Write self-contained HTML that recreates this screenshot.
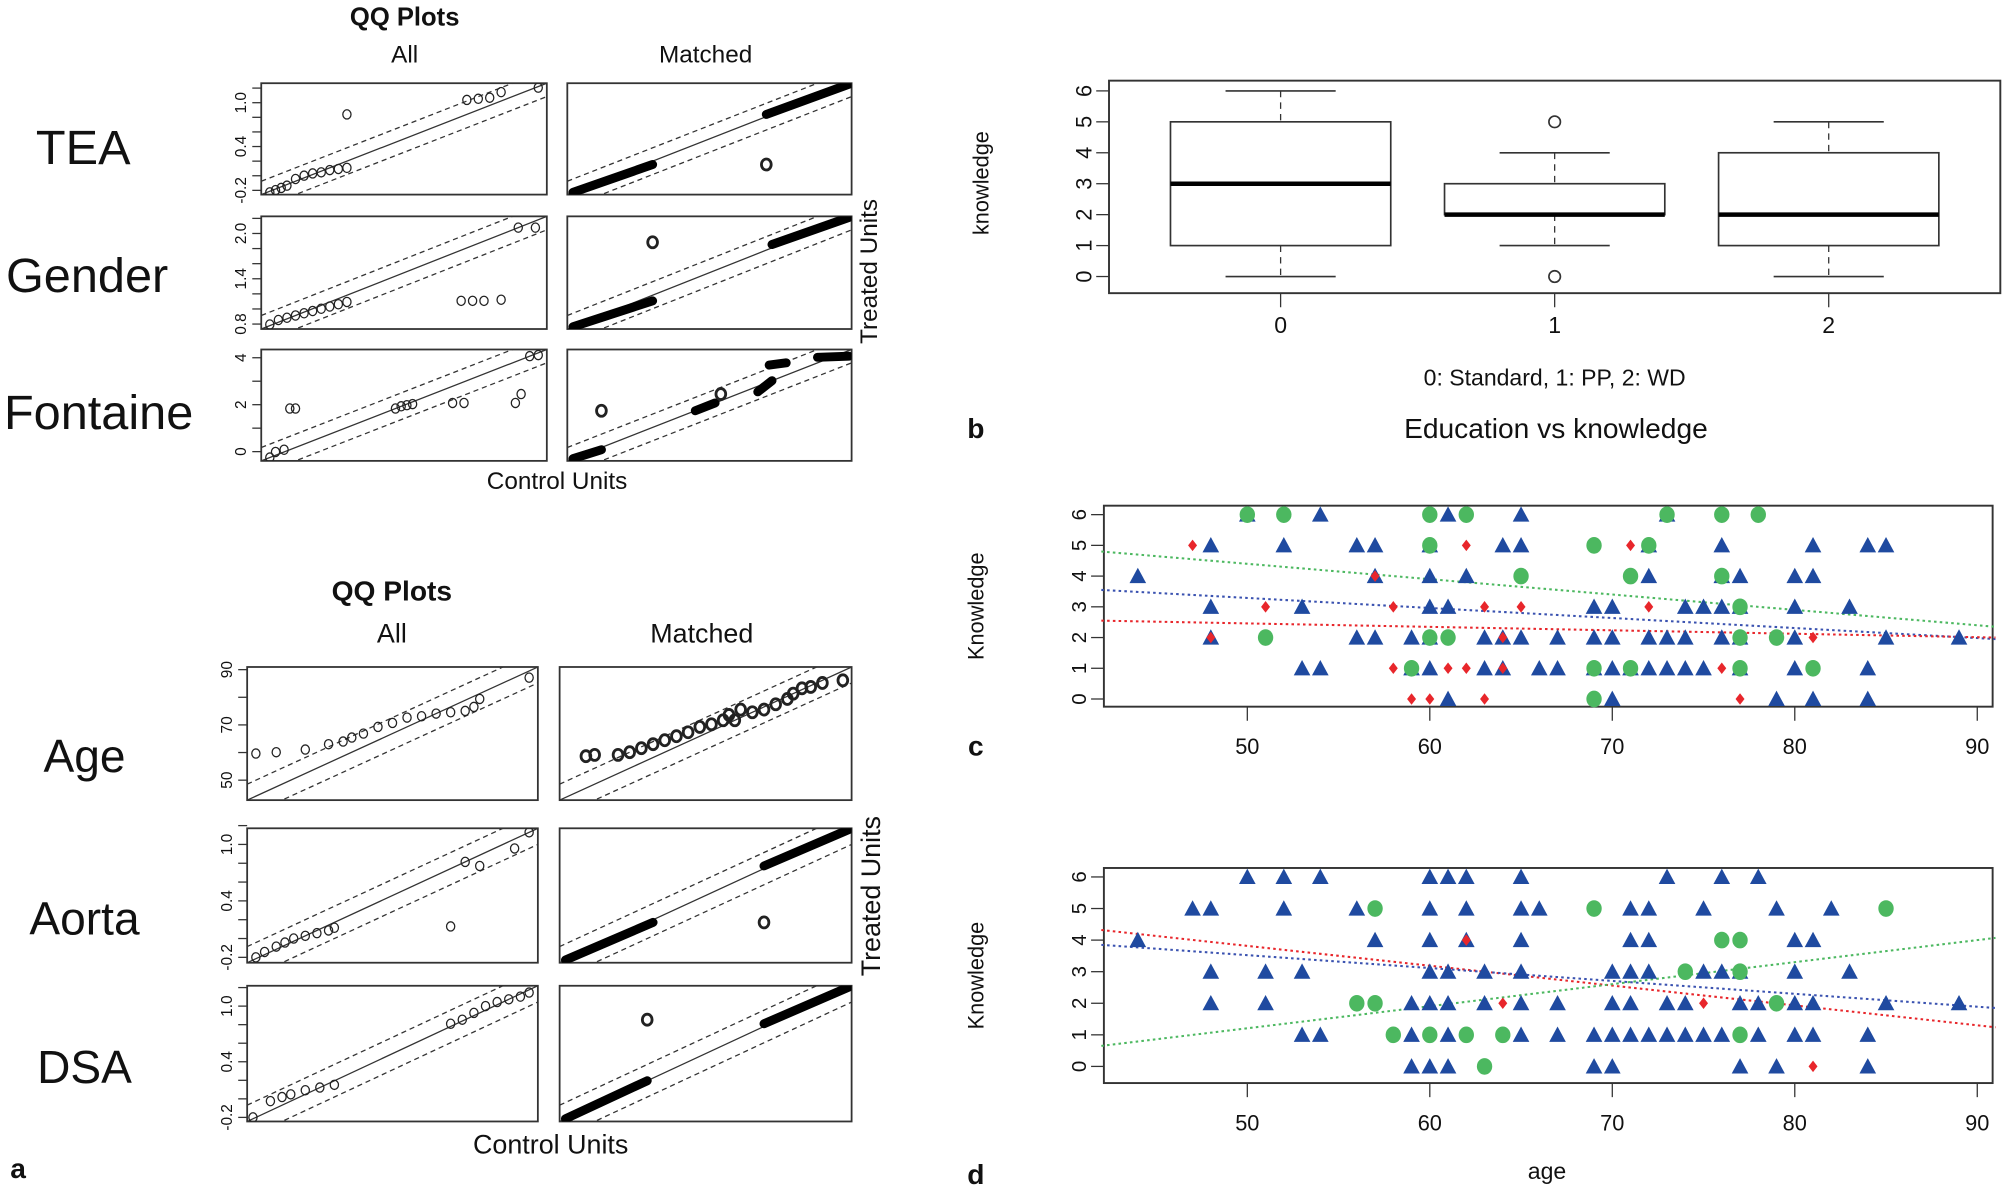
<!DOCTYPE html>
<html><head><meta charset="utf-8"><style>
html,body{margin:0;padding:0;background:#fff;}
svg{display:block;font-family:"Liberation Sans",sans-serif;}
</style></head><body>
<svg id="fig" width="2008" height="1197" viewBox="0 0 1568 935" preserveAspectRatio="none" xmlns="http://www.w3.org/2000/svg"></svg>
<script>
// ---------- Data: panel b (boxplot) ----------
const boxGroups = ["0","1","2"];
const boxQ1 = [1,2,1];
const boxMed = [3,2,2];
const boxQ3 = [5,3,4];
const boxLo = [0,1,0];
const boxHi = [6,4,5];
const boxOutliers = [[],[5,0],[]];
const knowTicks = [0,1,2,3,4,5,6];
const ageTicks = [50,60,70,80,90];

// ---------- Data: panel c ----------
const cBlueAge = [50,54,61,65,73, 48,52,56,57,60,64,65,72,76,81,84,85, 44,57,60,62,72,76,77,80,81, 48,53,60,61,69,70,74,75,76,77,80,83, 48,56,57,59,60,63,64,65,67,69,70,72,73,74,76,77,80,85,89, 53,54,59,60,63,64,66,67,69,70,71,72,73,74,75,77,80,84, 61,70,79,81,84];
const cBlueK   = [6,6,6,6,6, 5,5,5,5,5,5,5,5,5,5,5,5, 4,4,4,4,4,4,4,4,4, 3,3,3,3,3,3,3,3,3,3,3,3, 2,2,2,2,2,2,2,2,2,2,2,2,2,2,2,2,2,2,2, 1,1,1,1,1,1,1,1,1,1,1,1,1,1,1,1,1,1, 0,0,0,0,0];
const cGreenAge = [50,52,60,62,73,76,78, 60,69,72, 65,71,76, 77, 51,60,61,77,79, 59,69,71,77,81, 69];
const cGreenK   = [6,6,6,6,6,6,6, 5,5,5, 4,4,4, 3, 2,2,2,2,2, 1,1,1,1,1, 0];
const cRedAge = [47,62,71, 57, 51,58,63,65,72, 48,64,81, 58,61,62,64,76, 59,60,63,77];
const cRedK   = [5,5,5, 4, 3,3,3,3,3, 2,2,2, 1,1,1,1,1, 0,0,0,0];
const cTrendAge = [42,91];
const cTrendGreen = [4.8,2.35];
const cTrendBlue = [3.55,1.95];
const cTrendRed = [2.55,2.0];

// ---------- Data: panel d ----------
const dBlueAge = [50,52,54,60,61,62,65,73,76,78, 47,48,52,56,60,62,65,66,71,72,75,79,82, 44,57,60,62,65,71,72,80,81, 48,51,53,60,61,63,65,70,71,72,75,76,77,80,83, 48,51,59,60,61,63,65,67,70,71,73,74,77,78,80,81,85,89, 53,54,59,61,65,67,69,70,71,72,73,74,75,76,78,80,81,84, 59,60,61,69,70,77,79,84];
const dBlueK   = [6,6,6,6,6,6,6,6,6,6, 5,5,5,5,5,5,5,5,5,5,5,5,5, 4,4,4,4,4,4,4,4,4, 3,3,3,3,3,3,3,3,3,3,3,3,3,3,3, 2,2,2,2,2,2,2,2,2,2,2,2,2,2,2,2,2,2, 1,1,1,1,1,1,1,1,1,1,1,1,1,1,1,1,1,1, 0,0,0,0,0,0,0,0];
const dGreenAge = [57,69,85, 76,77, 74,77, 56,57,79, 58,60,62,64,77, 63];
const dGreenK   = [5,5,5, 4,4, 3,3, 2,2,2, 1,1,1,1,1, 0];
const dRedAge = [62, 64,75, 81];
const dRedK   = [4, 2,2, 0];
const dTrendAge = [42,91];
const dTrendRed = [4.32,1.24];
const dTrendBlue = [3.85,1.85];
const dTrendGreen = [0.65,4.07];

// ---------- Data: QQ panels (normalized quantiles 0..1) ----------
const qqTeaAll = [[0.03,0.02],[0.05,0.04],[0.07,0.06],[0.09,0.08],[0.12,0.14],[0.15,0.17],[0.18,0.19],[0.21,0.2],[0.24,0.22],[0.27,0.23],[0.3,0.24],[0.3,0.72],[0.72,0.85],[0.76,0.86],[0.8,0.87],[0.84,0.92],[0.97,0.96]];
const qqTeaMatchSeg = [[0.02,0.02,0.3,0.27],[0.7,0.72,0.99,0.99]];
const qqTeaMatchPts = [[0.7,0.27]];
const qqGenAll = [[0.03,0.04],[0.06,0.08],[0.09,0.1],[0.12,0.12],[0.15,0.14],[0.18,0.16],[0.21,0.18],[0.24,0.2],[0.27,0.22],[0.3,0.24],[0.7,0.25],[0.74,0.25],[0.78,0.25],[0.84,0.26],[0.9,0.9],[0.96,0.9]];
const qqGenMatchSeg = [[0.02,0.02,0.3,0.25],[0.72,0.75,0.99,0.99]];
const qqGenMatchPts = [[0.3,0.77]];
const qqFonAll = [[0.03,0.03],[0.05,0.08],[0.08,0.1],[0.1,0.47],[0.12,0.47],[0.47,0.47],[0.49,0.49],[0.51,0.5],[0.53,0.51],[0.67,0.52],[0.71,0.52],[0.89,0.52],[0.91,0.6],[0.94,0.94],[0.97,0.95]];
const qqFonMatchSeg = [[0.02,0.02,0.12,0.1],[0.45,0.45,0.52,0.52],[0.67,0.62,0.72,0.72],[0.71,0.86,0.77,0.88],[0.88,0.93,0.99,0.94]];
const qqFonMatchPts = [[0.12,0.45],[0.54,0.6]];
const qqAgeAll = [[0.03,0.35],[0.1,0.36],[0.2,0.38],[0.28,0.42],[0.33,0.44],[0.36,0.47],[0.4,0.5],[0.45,0.55],[0.5,0.58],[0.55,0.62],[0.6,0.63],[0.65,0.65],[0.7,0.66],[0.75,0.67],[0.78,0.7],[0.8,0.76],[0.97,0.92]];
const qqAgeMatch = [[0.09,0.33],[0.12,0.34],[0.2,0.34],[0.24,0.36],[0.28,0.39],[0.32,0.42],[0.36,0.45],[0.4,0.48],[0.44,0.51],[0.48,0.55],[0.52,0.57],[0.56,0.6],[0.58,0.64],[0.6,0.6],[0.62,0.68],[0.66,0.66],[0.7,0.68],[0.74,0.72],[0.78,0.76],[0.8,0.8],[0.83,0.84],[0.86,0.85],[0.9,0.88],[0.97,0.9]];
const qqAorAll = [[0.03,0.04],[0.06,0.08],[0.1,0.12],[0.13,0.15],[0.16,0.18],[0.2,0.2],[0.24,0.22],[0.28,0.24],[0.3,0.26],[0.7,0.27],[0.75,0.75],[0.8,0.72],[0.92,0.85],[0.97,0.97]];
const qqAorMatchSeg = [[0.02,0.02,0.32,0.3],[0.7,0.72,0.99,0.99]];
const qqAorMatchPts = [[0.7,0.3]];
const qqDsaAll = [[0.02,0.03],[0.08,0.15],[0.12,0.18],[0.15,0.2],[0.2,0.23],[0.25,0.25],[0.3,0.27],[0.7,0.72],[0.74,0.75],[0.78,0.8],[0.82,0.85],[0.86,0.88],[0.9,0.9],[0.94,0.92],[0.97,0.95]];
const qqDsaMatchSeg = [[0.02,0.02,0.3,0.3],[0.7,0.72,0.99,0.99]];
const qqDsaMatchPts = [[0.3,0.75]];

const NS="http://www.w3.org/2000/svg";
const svg=document.getElementById('fig');
function mk(tag,attrs,parent){const e=document.createElementNS(NS,tag);for(const k in attrs)e.setAttribute(k,attrs[k]);(parent||svg).appendChild(e);return e;}
function txt(s,x,y,size,opts,parent){opts=opts||{};const e=mk('text',{x:x,y:y,'font-size':size,'text-anchor':opts.anchor||'middle',fill:'#111','font-weight':opts.weight||'normal'},parent);if(opts.rot!==undefined)e.setAttribute('transform','rotate('+opts.rot+' '+x+' '+y+')');if(opts.family)e.setAttribute('font-family',opts.family);e.textContent=s;return e;}
function grp(name){const g=mk('g',{});return g;}

// ---------- Panel b ----------
(function(){
 const g=grp('panel-b-boxplot');
 const X0=866,X1=1562,Y0=63,Y1=229;
 const yS=v=>216-v*(145/6);
 const xS=i=>1000+i*214;
 mk('rect',{x:X0,y:Y0,width:X1-X0,height:Y1-Y0,fill:'none',stroke:'#333','stroke-width':1.5},g);
 knowTicks.forEach(t=>{mk('line',{x1:X0-10,x2:X0,y1:yS(t),y2:yS(t),stroke:'#333'},g);const l=txt(String(t),X0-18,yS(t),17,{rot:-90},g);l.setAttribute('dominant-baseline','middle');});
 boxGroups.forEach((n,i)=>{
  const bg=mk('g',{},g);
  const cx=xS(i),hw=86;
  mk('line',{x1:cx,x2:cx,y1:Y1,y2:Y1+11,stroke:'#333'},g);
  txt(n,cx,260,18,{},g);
  mk('line',{x1:cx,x2:cx,y1:yS(boxHi[i]),y2:yS(boxQ3[i]),stroke:'#333','stroke-dasharray':'5,4'},bg);
  mk('line',{x1:cx,x2:cx,y1:yS(boxQ1[i]),y2:yS(boxLo[i]),stroke:'#333','stroke-dasharray':'5,4'},bg);
  mk('line',{x1:cx-43,x2:cx+43,y1:yS(boxHi[i]),y2:yS(boxHi[i]),stroke:'#333','stroke-width':1.3},bg);
  mk('line',{x1:cx-43,x2:cx+43,y1:yS(boxLo[i]),y2:yS(boxLo[i]),stroke:'#333','stroke-width':1.3},bg);
  mk('rect',{x:cx-hw,y:yS(boxQ3[i]),width:2*hw,height:yS(boxQ1[i])-yS(boxQ3[i]),fill:'#fff',stroke:'#333','stroke-width':1.3},bg);
  mk('line',{x1:cx-hw,x2:cx+hw,y1:yS(boxMed[i]),y2:yS(boxMed[i]),stroke:'#000','stroke-width':3.5},bg);
  boxOutliers[i].forEach(o=>mk('circle',{cx:cx,cy:yS(o),r:4.5,fill:'none',stroke:'#333','stroke-width':1.3},bg));
 });
 txt('knowledge',772,143,17,{rot:-90},g);
 txt('0: Standard, 1: PP, 2: WD',1214,301,18,{},g);
 txt('Education vs knowledge',1215,342,22,{},g);
 txt('b',762,342,22,{weight:'bold'},g);
})();

// ---------- scatter panels ----------
function scatter(name,Y0,Y1,y6,y0,blue,green,red,trend,label,labY,showAge){
 const g=grp(name);
 const X0=862,X1=1556;
 const xS=a=>974+(a-50)*14.25;
 const yS=v=>y0-v*((y0-y6)/6);
 mk('rect',{x:X0,y:Y0,width:X1-X0,height:Y1-Y0,fill:'none',stroke:'#333','stroke-width':1.5},g);
 knowTicks.forEach(t=>{mk('line',{x1:X0-10,x2:X0,y1:yS(t),y2:yS(t),stroke:'#333'},g);const l=txt(String(t),X0-18,yS(t),16,{rot:-90},g);l.setAttribute('dominant-baseline','middle');});
 ageTicks.forEach(t=>{mk('line',{x1:xS(t),x2:xS(t),y1:Y1,y2:Y1+11,stroke:'#333'},g);txt(String(t),xS(t),Y1+37,17,{},g);});
 txt('Knowledge',768,(Y0+Y1)/2,17,{rot:-90},g);
 txt(label,762,labY,22,{weight:'bold'},g);
 if(showAge) txt('age',1208,921,18,{},g);
 const colors={green:'#4cb860',blue:'#3a52b0',red:'#e8262b'};
 trend.forEach(tr=>{const l=mk('line',{x1:xS(tr.a[0]),y1:yS(tr.v[0]),x2:xS(tr.a[1]),y2:yS(tr.v[1]),stroke:colors[tr.c],'stroke-width':1.6,'stroke-dasharray':'2,2.5'},g);});
 blue[0].forEach((a,i)=>{const x=xS(a),y=yS(blue[1][i]);const p=mk('polygon',{points:`${x-6.5},${y+5.5} ${x+6.5},${y+5.5} ${x},${y-6.5}`,fill:'#1f4aa0'},g);});
 green[0].forEach((a,i)=>{const p=mk('ellipse',{cx:xS(a),cy:yS(green[1][i]),rx:6,ry:6.5,fill:'#4cb860'},g);});
 red[0].forEach((a,i)=>{const x=xS(a),y=yS(red[1][i]);const p=mk('polygon',{points:`${x},${y-4.5} ${x+3.5},${y} ${x},${y+4.5} ${x-3.5},${y}`,fill:'#e8262b'},g);});
}
scatter('panel-c-scatter',395,552,402,546,[cBlueAge,cBlueK],[cGreenAge,cGreenK],[cRedAge,cRedK],
 [{c:'green',a:cTrendAge,v:cTrendGreen},{c:'blue',a:cTrendAge,v:cTrendBlue},{c:'red',a:cTrendAge,v:cTrendRed}],'c',590,false);
scatter('panel-d-scatter',678,846,685,833,[dBlueAge,dBlueK],[dGreenAge,dGreenK],[dRedAge,dRedK],
 [{c:'red',a:dTrendAge,v:dTrendRed},{c:'blue',a:dTrendAge,v:dTrendBlue},{c:'green',a:dTrendAge,v:dTrendGreen}],'d',925,true);

// ---------- QQ panels ----------
function qq(name,X0,X1,Y0,Y1,pts,segs,bold,ticks,tickFracs){
 const g=grp(name);
 const W=X1-X0,H=Y1-Y0;
 const xS=u=>X0+u*W, yS=v=>Y1-v*H;
 mk('rect',{x:X0,y:Y0,width:W,height:H,fill:'none',stroke:'#333','stroke-width':1.4},g);
 const cp='cp'+name;const c=mk('clipPath',{id:cp},g);mk('rect',{x:X0,y:Y0,width:W,height:H},c);
 const lg=mk('g',{'clip-path':'url(#'+cp+')'},g);
 mk('line',{x1:xS(0),y1:yS(0),x2:xS(1),y2:yS(1),stroke:'#333','stroke-width':1},lg);
 mk('line',{x1:xS(0),y1:yS(0.12),x2:xS(1),y2:yS(1.12),stroke:'#333','stroke-width':1,'stroke-dasharray':'4,3'},lg);
 mk('line',{x1:xS(0.1),y1:yS(-0.02),x2:xS(1.1),y2:yS(0.98),stroke:'#333','stroke-width':1,'stroke-dasharray':'4,3'},lg);
 (segs||[]).forEach(s=>mk('line',{x1:xS(s[0]),y1:yS(s[1]),x2:xS(s[2]),y2:yS(s[3]),stroke:'#000','stroke-width':7,'stroke-linecap':'round'},lg));
 pts.forEach(p=>mk('ellipse',{cx:xS(p[0]),cy:yS(p[1]),rx:bold?3.8:3.2,ry:bold?4.3:3.6,fill:'none',stroke:'#222','stroke-width':bold?2.2:1},lg));
 if(ticks){
  // ticks: [min,max,step], labels every 3rd
  const [mn,mx,st,lab]=ticks;
  const yv=v=>Y0+H*(tickFracs[0]+(v-mn)/(mx-mn)*(tickFracs[1]-tickFracs[0]));
  let k=0;
  for(let v=mn;v<=ticks[4]+1e-9;v+=st,k++){
   const y=yv(v);mk('line',{x1:X0-7,x2:X0,y1:y,y2:y,stroke:'#333'},g);
   if(k%lab===0){const l=txt((Math.round(v*10)/10).toFixed(st<1?1:0),X0-15,y,12,{rot:-90},g);l.setAttribute('dominant-baseline','middle');}
  }
 }
}
// top group
txt('QQ Plots',316,20,20,{weight:'bold'});
txt('All',316,49,19);
txt('Matched',551,49,19);
txt('Control Units',435,382,19);
txt('Treated Units',685,212,19,{rot:-90});
txt('TEA',65,128,38);
txt('Gender',68,228,38);
txt('Fontaine',77,335,38);
// tick spec: [valueAtFracA, valueAtFracB, step, labelEvery, maxTick]
qq('qq-tea-all',204,427,65,152,qqTeaAll,null,false,[-0.2,1.0,0.2,3,1.2],[0.962,0.175]);
qq('qq-tea-matched',443,665,65,152,qqTeaMatchPts,qqTeaMatchSeg,true);
qq('qq-gender-all',204,427,169,257,qqGenAll,null,false,[0.8,2.0,0.2,3,2.2],[0.956,0.152]);
qq('qq-gender-matched',443,665,169,257,qqGenMatchPts,qqGenMatchSeg,true);
qq('qq-fontaine-all',204,427,273,360,qqFonAll,null,false,[0,4,1,2,4],[0.917,0.074]);
qq('qq-fontaine-matched',443,665,273,360,qqFonMatchPts,qqFonMatchSeg,true);
// bottom group
txt('QQ Plots',306,469,22,{weight:'bold'});
txt('All',306,502,21);
txt('Matched',548,502,21);
txt('Control Units',430,901,21);
txt('Treated Units',687,700,21,{rot:-90});
txt('Age',66,603,36);
txt('Aorta',66,730,36);
txt('DSA',66,846,36);
txt('a',8,920,22,{weight:'bold',anchor:'start'});
qq('qq-age-all',193,420,521,625,qqAgeAll,null,false,[50,90,10,2,90],[0.85,0.02]);
qq('qq-age-matched',437,665,521,625,qqAgeMatch,null,true);
qq('qq-aorta-all',193,420,647,752,qqAorAll,null,false,[-0.2,1.0,0.2,3,1.2],[0.96,0.12]);
qq('qq-aorta-matched',437,665,647,752,qqAorMatchPts,qqAorMatchSeg,true);
qq('qq-dsa-all',193,420,770,876,qqDsaAll,null,false,[-0.2,1.0,0.2,3,1.2],[0.97,0.15]);
qq('qq-dsa-matched',437,665,770,876,qqDsaMatchPts,qqDsaMatchSeg,true);
</script>
</body></html>
